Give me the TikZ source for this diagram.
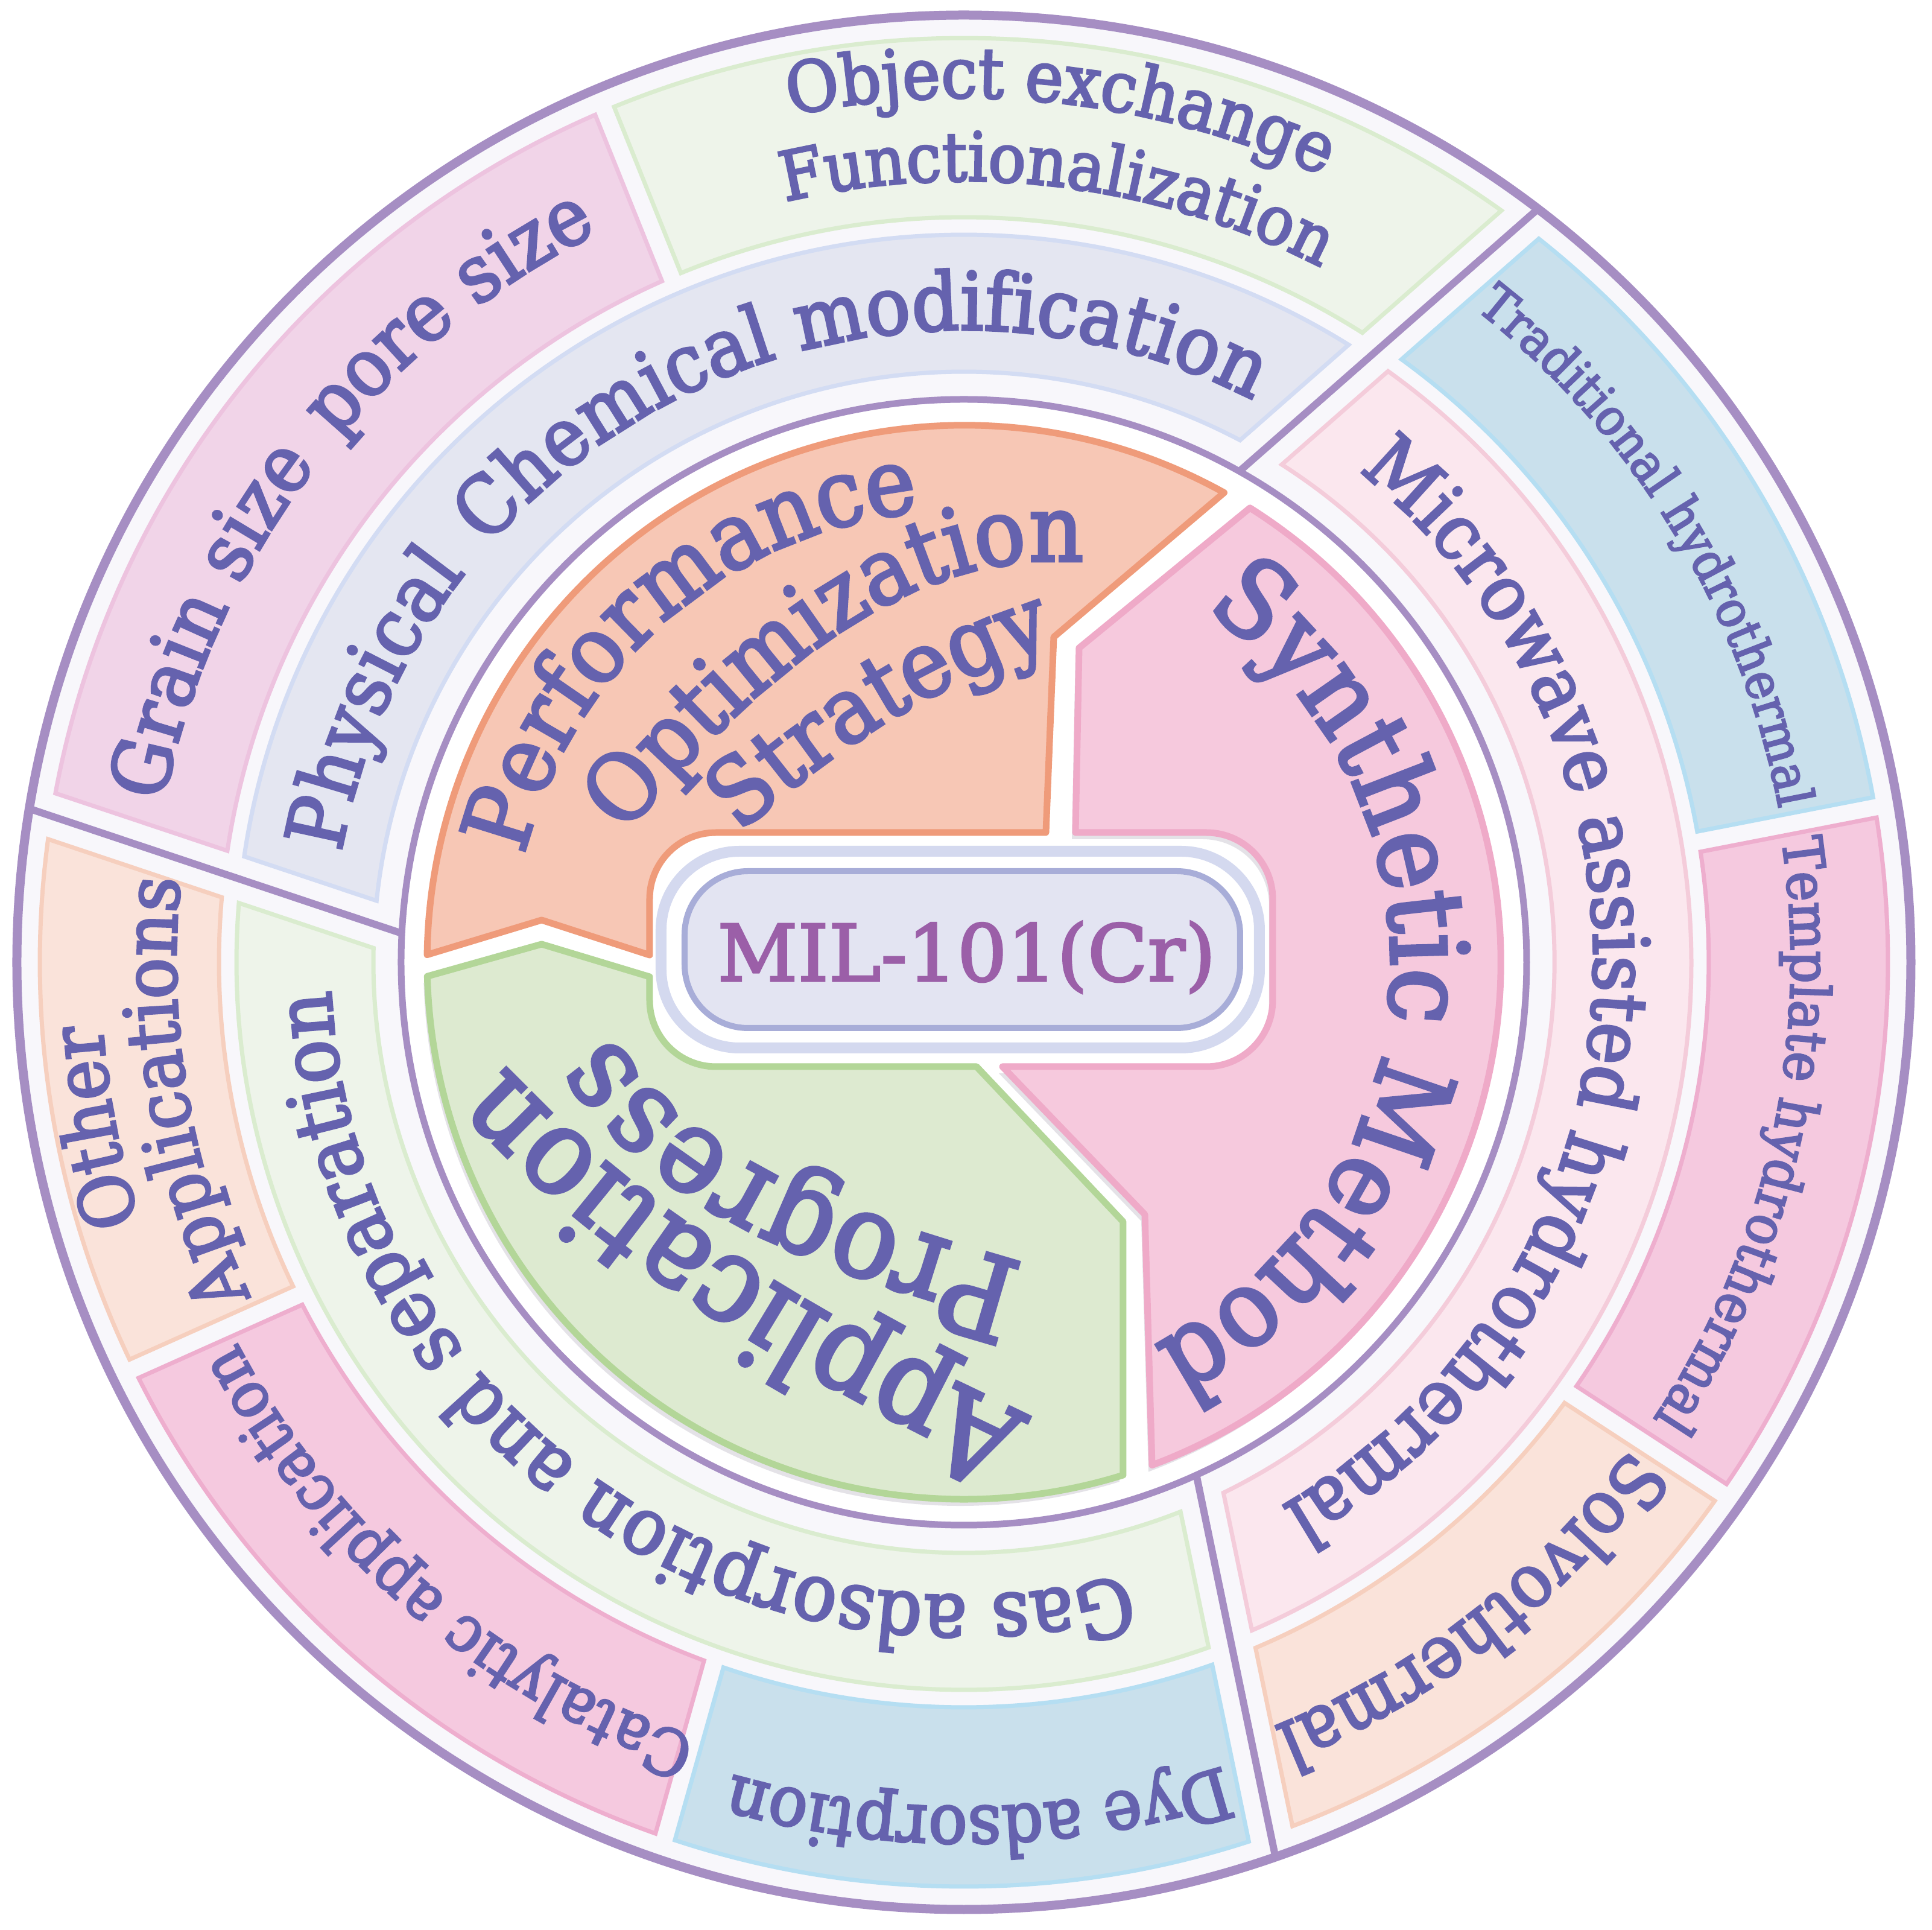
\documentclass[tikz,border=0pt]{standalone}
\usepackage{fontspec}
\setmainfont{DejaVu Serif}[FakeBold=3,FakeStretch=0.92]
\newfontfamily\milfont{DejaVu Serif}[FakeBold=2.5]
\usetikzlibrary{decorations.text}
\definecolor{purp}{HTML}{A68EC3}
\definecolor{ringbg}{HTML}{F8F7FB}
\definecolor{txt}{HTML}{6562AE}
\definecolor{miltxt}{HTML}{9B5FA8}
\definecolor{orF}{HTML}{F7C7B5}
\definecolor{orS}{HTML}{EF9B7A}
\definecolor{pkF}{HTML}{F6C9DD}
\definecolor{pkS}{HTML}{EFAAC8}
\definecolor{grF}{HTML}{DDEAD0}
\definecolor{grS}{HTML}{B3D698}
\definecolor{pillF}{HTML}{E3E4F2}
\definecolor{pillS}{HTML}{A8ADD8}
\definecolor{pillR}{HTML}{D4D9EF}
\definecolor{lavF}{HTML}{E4E6F1}
\definecolor{lavS}{HTML}{D3DCF3}
\definecolor{pgF}{HTML}{EEF4EA}
\definecolor{pgS}{HTML}{DAECCF}
\definecolor{lilF}{HTML}{F1D4E8}
\definecolor{lilS}{HTML}{EDC3DF}
\definecolor{peF}{HTML}{FAE3DA}
\definecolor{peS}{HTML}{F6CFBE}
\definecolor{blF}{HTML}{C9E0EC}
\definecolor{blS}{HTML}{B5DEF2}
\definecolor{piF}{HTML}{F5C9DF}
\definecolor{piS}{HTML}{EEAECE}
\definecolor{lpF}{HTML}{FBE7EE}
\definecolor{lpS}{HTML}{F4CCDA}
\definecolor{shad}{HTML}{D9D7DE}

\tikzset{
  seg/.style={line width=0.11cm, line join=round},
  orseg/.style={seg, draw=orS, fill=orF},
  pkseg/.style={seg, draw=pkS, fill=pkF},
  grseg/.style={seg, draw=grS, fill=grF},
  band/.style={line width=0.07cm, line join=miter},
  bLav/.style={band, draw=lavS, fill=lavF},
  bPg/.style={band, draw=pgS, fill=pgF},
  bLil/.style={band, draw=lilS, fill=lilF},
  bPe/.style={band, draw=peS, fill=peF},
  bBl/.style={band, draw=blS, fill=blF},
  bPi/.style={band, draw=piS, fill=piF},
  bLp/.style={band, draw=lpS, fill=lpF},
  divl/.style={draw=purp, line width=0.12cm},
  ringl/.style={draw=purp},
}

% intersection angle of line (px,py,theta) with circle radius r
\newcommand\myIsect[5]{%
  \pgfmathsetmacro\isS{(#2)*cos(#4)+(#3)*sin(#4)}%
  \pgfmathsetmacro\isT{-(\isS)+sqrt((\isS)*(\isS)-(#2)*(#2)-(#3)*(#3)+(#5)*(#5))}%
  \pgfmathsetmacro\isX{(#2)+(\isT)*cos(#4)}%
  \pgfmathsetmacro\isY{(#3)+(\isT)*sin(#4)}%
  \pgfmathsetmacro#1{atan2(\isY,\isX)}%
}
% band clockwise from line 1 to line 2
\newcommand\bandpath[9]{%
  \pgfmathsetmacro\ax{#4+\gA*cos(#6-90)}\pgfmathsetmacro\ay{#5+\gA*sin(#6-90)}%
  \pgfmathsetmacro\bx{#7+\gB*cos(#9+90)}\pgfmathsetmacro\by{#8+\gB*sin(#9+90)}%
  \myIsect\aIn{\ax}{\ay}{#6}{#2}\myIsect\aOut{\ax}{\ay}{#6}{#3}%
  \myIsect\bIn{\bx}{\by}{#9}{#2}\myIsect\bOut{\bx}{\by}{#9}{#3}%
  \pgfmathsetmacro\bOut{\bOut>\aOut ? \bOut-360 : \bOut}%
  \pgfmathsetmacro\bIn{\bIn>\aIn ? \bIn-360 : \bIn}%
  \draw[#1] (\aOut:#3) arc[start angle=\aOut, end angle=\bOut, radius=#3]
    -- (\bIn:#2) arc[start angle=\bIn, end angle=\aIn, radius=#2] -- cycle;
}
% text on a clockwise arc: radius, centre angle, size, text, half span
\newcommand\arctext[5]{%
  \path[decorate,decoration={text along path,text align=center,text color=txt,
    text={|\fontsize{#3}{#3}\selectfont|#4}}]
    ({#2+#5}:#1) arc[start angle={#2+#5},end angle={#2-#5},radius=#1];}

\newcommand\orangeP[1]{\path[#1] (179.2:8.90) -- (-7.00,0.70) -- (-5.21,0.12) -- (-5.21,1.05)
  arc[start angle=180,end angle=90,radius=1.1] -- (1.36,2.15) -- (1.49,5.39) -- (61:8.90)
  arc[start angle=61,end angle=179.2,radius=8.90] -- cycle;}
\newcommand\greenP[1]{\path[#1] (181.5:8.90) -- (-7.00,0.30) -- (-5.21,-0.24) -- (-5.21,-0.63)
  arc[start angle=180,end angle=270,radius=1.1] -- (0.21,-1.73) -- (2.64,-4.30) -- (2.64,-8.50)
  arc[start angle=-72.75,end angle=-178.5,radius=8.90] -- cycle;}
\newcommand\pinkP[1]{\path[#1] (57.8:8.90) -- (1.91,5.21) -- (1.85,2.15) -- (4.02,2.15)
  arc[start angle=90,end angle=0,radius=1.1] -- (5.12,-0.63)
  arc[start angle=0,end angle=-90,radius=1.1] -- (0.64,-1.73) -- (3.00,-4.18) -- (3.12,-8.335)
  arc[start angle=-69.48,end angle=57.8,radius=8.90] -- cycle;}

\begin{document}
\begin{tikzpicture}
\useasboundingbox (-15.98,-16.04) rectangle (16.05,15.95);
\fill[white] (-15.98,-16.04) rectangle (16.05,15.95);
\fill[ringbg] (0,0) circle (15.70);
\fill[white] (0,0) circle (9.33);

% ---- bands ----
\def\gA{0.38}\def\gB{0.38}\bandpath{bLav}{9.79}{12.06}{-9.32}{0.48}{161.5}{4.57}{8.14}{41.3}
\def\gA{0.38}\def\gB{0.17}\bandpath{bLil}{12.35}{15.32}{-9.32}{0.48}{161.5}{-4.97}{11.66}{111.9}
\def\gA{0.17}\def\gB{0.38}\bandpath{bPg}{12.35}{15.32}{-4.97}{11.66}{111.9}{4.57}{8.14}{41.3}
\def\gA{0.38}\def\gB{0.38}\bandpath{bLp}{9.79}{12.06}{4.57}{8.14}{41.3}{3.90}{-8.72}{-78.3}
\def\gA{0.38}\def\gB{0.17}\bandpath{bBl}{12.35}{15.32}{4.57}{8.14}{41.3}{12.29}{2.02}{11.0}
\def\gA{0.17}\def\gB{0.17}\bandpath{bPi}{12.35}{15.32}{12.29}{2.02}{11.0}{10.11}{-7.20}{-33.1}
\def\gA{0.17}\def\gB{0.38}\bandpath{bPe}{12.35}{15.32}{10.11}{-7.20}{-33.1}{3.90}{-8.72}{-78.3}
\def\gA{0.38}\def\gB{0.38}\bandpath{bPg}{9.79}{12.06}{3.90}{-8.72}{-78.3}{-9.32}{0.48}{161.5}
\def\gA{0.38}\def\gB{0.17}\bandpath{bBl}{12.35}{15.32}{3.90}{-8.72}{-78.3}{-4.13}{-11.57}{254.3}
\def\gA{0.17}\def\gB{0.17}\bandpath{bPi}{12.35}{15.32}{-4.13}{-11.57}{254.3}{-11.08}{-5.54}{204.1}
\def\gA{0.17}\def\gB{0.38}\bandpath{bPe}{12.35}{15.32}{-11.08}{-5.54}{204.1}{-9.32}{0.48}{161.5}

% ---- dividers ----
\begin{scope}
\clip (0,0) circle (15.70);
\draw[divl] (4.57,8.14) ++(41.3:-0.03) -- ++(41.3:8.5);
\draw[divl] (-9.32,0.48) ++(161.5:-0.03) -- ++(161.5:8.5);
\draw[divl] (3.90,-8.72) ++(-78.3:-0.2) -- ++(-78.3:8.5);
\end{scope}
\draw[ringl, line width=0.15cm] (0,0) circle (15.70);
\draw[ringl, line width=0.11cm] (0,0) circle (9.33);

% ---- inner segments ----
\greenP{fill=shad, opacity=0.7, shift={(-0.06,-0.11)}}
\pinkP{fill=shad, opacity=0.7, shift={(-0.06,-0.11)}}
\orangeP{orseg}
\greenP{grseg}
\pinkP{pkseg}

% ---- centre pill ----
\draw[draw=pillR, line width=0.18cm, fill=white, rounded corners=1.3cm] (-5.02,-1.42) rectangle (4.90,1.84);
\draw[draw=pillS, line width=0.1cm, fill=pillF, rounded corners=1.05cm] (-4.63,-1.09) rectangle (4.58,1.51);
\node[text=miltxt, anchor=base, inner sep=0pt, font=\milfont\fontsize{37}{37}\selectfont] (mil) at (0.045,-0.31) {MIL-101(Cr)};

% ---- texts ----
\arctext{7.08}{-4}{50.5}{Synthetic Method}{80}
\arctext{7.50}{131}{43.8}{Performance}{60}
\path[decorate,decoration={text along path,text align=center,text color=txt,
  text={|\fontsize{43.5}{43.5}\selectfont|Optimization}}]
  (-6.26,1.41) -- (-5.27,2.53) .. controls (-3.54,4.50) and (-1.19,6.65) .. (1.43,6.65) -- (2.93,6.65);
\path[decorate,decoration={text along path,text align=center,text color=txt,
  text={|\fontsize{43.5}{43.5}\selectfont|Strategy}}]
  (-4.35,1.62) -- (-3.20,2.58) .. controls (-1.99,3.60) and (-0.61,4.49) .. (0.87,5.03) -- (2.28,5.54);
\path[decorate,decoration={text along path,text align=center,text color=txt,
  text={|\fontsize{56.5}{56.5}\selectfont|Application}}]
  (1.87,-7.91) -- (0.52,-7.26) .. controls (-2.26,-5.93) and (-5.00,-4.34) .. (-7.18,-2.16) -- (-8.24,-1.10);
\path[decorate,decoration={text along path,text align=center,text color=txt,
  text={|\fontsize{55.4}{55.4}\selectfont|Progress}}]
  (1.90,-5.26) -- (0.46,-4.84) .. controls (-1.72,-4.20) and (-4.14,-3.44) .. (-5.54,-1.65) -- (-6.46,-0.47);

\arctext{10.48}{156}{37.8}{Physical}{40}
\arctext{10.48}{100.8}{37.8}{Chemical modification}{60}
\arctext{13.53}{155.6}{37.5}{Grain size}{40}
\arctext{13.53}{128.4}{37.5}{pore size}{40}
\arctext{14.33}{83.5}{33}{Object exchange}{50}
\arctext{12.95}{83}{32}{Functionalization}{50}
\arctext{13.75}{31.3}{23.9}{Traditional hydrothermal}{50}
\arctext{13.71}{-12.5}{26}{Template hydrothermal}{50}
\arctext{10.44}{-4.25}{36.3}{Microwave assisted hydrothermal}{80}
\arctext{13.67}{-52}{34.8}{Solvothermal}{40}
\arctext{14.0}{-89}{33.1}{Dye adsorption}{40}
\arctext{13.60}{-130.7}{30.4}{Catalytic application}{50}
\arctext{14.32}{-169.2}{35}{Other}{30}
\arctext{13.06}{-170.5}{35}{Applications}{40}
\arctext{10.50}{-126.25}{37.3}{Gas adsorption and separation}{85}
\end{tikzpicture}
\end{document}
